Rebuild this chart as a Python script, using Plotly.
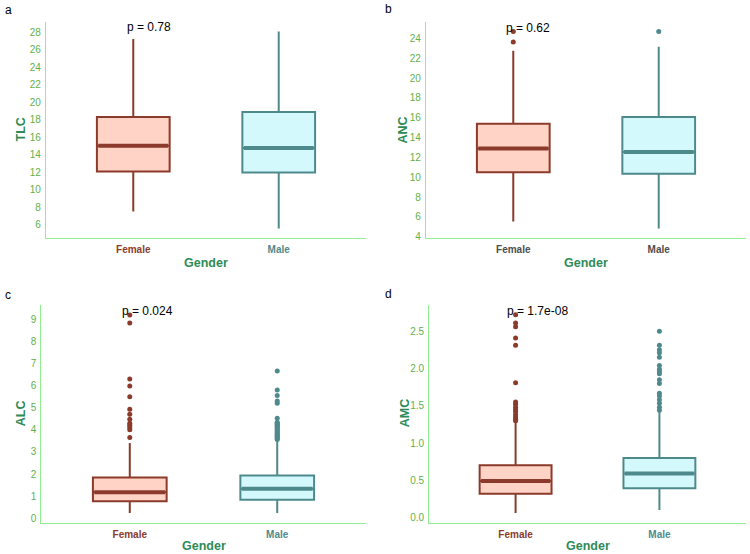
import plotly.graph_objects as go

# ---------------- data ----------------
groups = ["Female", "Male"]
# stats: [lower whisker, Q1, median, Q3, upper whisker]
tlc_female = [7.55, 12.1, 15.05, 18.34, 27.25]
tlc_male = [5.6, 11.98, 14.8, 18.9, 28.1]
tlc_out_female = []
tlc_out_male = []

anc_female = [5.53, 10.5, 12.9, 15.4, 22.77]
anc_male = [4.83, 10.35, 12.55, 16.07, 23.17]
anc_out_female = [23.64, 24.7]
anc_out_male = [24.7]

alc_female = [0.24, 0.77, 1.18, 1.84, 3.4]
alc_male = [0.24, 0.84, 1.34, 1.93, 3.52]
alc_out_female = [3.65, 4.0, 4.1, 4.2, 4.3, 4.48, 4.7, 4.93, 5.49, 5.98, 6.29, 8.82, 9.18]
alc_out_male = [3.56, 3.6, 3.65, 3.7, 3.75, 3.8, 3.85, 3.9, 3.95, 4.0, 4.05, 4.1, 4.15,
                4.2, 4.25, 4.3, 4.34, 4.52, 5.2, 5.3, 5.55, 5.8, 6.65]

amc_female = [0.063, 0.323, 0.494, 0.705, 1.28]
amc_male = [0.103, 0.395, 0.593, 0.80, 1.42]
amc_out_female = [1.30, 1.32, 1.35, 1.38, 1.42, 1.45, 1.48, 1.52, 1.55, 1.81, 2.31, 2.41,
                  2.56, 2.61, 2.72]
amc_out_male = [1.44, 1.48, 1.535, 1.58, 1.63, 1.67, 1.80, 1.85, 1.93, 1.96, 1.99, 2.04,
                2.15, 2.21, 2.25, 2.31, 2.50]

variables = ["TLC", "ANC", "ALC", "AMC"]
x_title = "Gender"
p_values = ["p = 0.78", "p = 0.62", "p = 0.024", "p = 1.7e-08"]
panel_letters = ["a", "b", "c", "d"]

ytick_vals = [
    [6, 8, 10, 12, 14, 16, 18, 20, 22, 24, 26, 28],
    [4, 6, 8, 10, 12, 14, 16, 18, 20, 22, 24],
    [0, 1, 2, 3, 4, 5, 6, 7, 8, 9],
    [0.0, 0.5, 1.0, 1.5, 2.0, 2.5],
]

# ---------------- style ----------------
W, H = 750, 554
line_cols = {"Female": "#8B3A2B", "Male": "#4E8A8C"}
fill_cols = {"Female": "#FFD3C6", "Male": "#D3F9FC"}
ytick_col = "#62B04C"
axis_line_col = "#90EE90"
title_col = "#2E8B57"
FONT = "Liberation Sans, Arial, sans-serif"

# pixel boxes: (x_left, x_right, y_top, y_bottom)
panels_px = [
    (46, 366, 21.7, 238.3),
    (426, 746, 21.7, 238.3),
    (41.3, 365.7, 304.7, 523),
    (429.3, 745.7, 304.7, 523),
]
yranges = [(4.475, 29.225), (3.84, 25.69), (-0.21, 9.65), (-0.07, 2.855)]
letter_pos = [(3, 10), (383, 9), (3, 294.5), (383, 294)]
ytitle_pos = [(20.5, 130), (402.5, 130), (20.5, 413.7), (404.5, 413.7)]
xtitle_y = [263, 263, 546.3, 546.3]
colored_x = [True, False, True, True]
p_shift = [-8, -9, -10, -11]
p_y = [28.57, 25.1, 9.35, 2.77]

stats = [
    (tlc_female, tlc_male, tlc_out_female, tlc_out_male),
    (anc_female, anc_male, anc_out_female, anc_out_male),
    (alc_female, alc_male, alc_out_female, alc_out_male),
    (amc_female, amc_male, amc_out_female, amc_out_male),
]

fig = go.Figure()
box_width = 0.5

for i in range(4):
    xa = "x" if i == 0 else f"x{i+1}"
    ya = "y" if i == 0 else f"y{i+1}"
    sf, sm, of, om = stats[i]
    for gi, (g, s, outs) in enumerate([("Female", sf, of), ("Male", sm, om)]):
        fig.add_trace(go.Box(
            x=[gi], lowerfence=[s[0]], q1=[s[1]], median=[s[2]], q3=[s[3]],
            upperfence=[s[4]], width=box_width, whiskerwidth=0,
            fillcolor=fill_cols[g], line=dict(color=line_cols[g], width=2),
            boxpoints=False, showlegend=False, hoverinfo="skip",
            xaxis=xa, yaxis=ya,
        ))
        # thicker median line
        fig.add_trace(go.Scatter(
            x=[gi - box_width / 2 + 0.01, gi + box_width / 2 - 0.01], y=[s[2], s[2]],
            mode="lines", line=dict(color=line_cols[g], width=4),
            showlegend=False, hoverinfo="skip", xaxis=xa, yaxis=ya,
        ))
        if outs:
            fig.add_trace(go.Scatter(
                x=[gi] * len(outs), y=outs, mode="markers",
                marker=dict(color=line_cols[g], size=5),
                showlegend=False, hoverinfo="skip", xaxis=xa, yaxis=ya,
            ))

    xl, xr, yt, yb = panels_px[i]
    xkey = "xaxis" if i == 0 else f"xaxis{i+1}"
    ykey = "yaxis" if i == 0 else f"yaxis{i+1}"
    if colored_x[i]:
        ttext = [f"<span style='color:{line_cols[g]}'><b>{g}</b></span>" for g in groups]
    else:
        ttext = [f"<b>{g}</b>" for g in groups]
    fig.layout[xkey] = dict(
        domain=[xl / W, xr / W], anchor=ya, range=[-0.6, 1.6],
        tickvals=[0, 1], ticktext=ttext,
        tickfont=dict(family=FONT, size=10, color="#4D4D4D"),
        showgrid=False, zeroline=False, showline=True, linecolor=axis_line_col,
        linewidth=1.2, ticks="", automargin=False, ticklabelstandoff=2,
    )
    fmt = ".1f" if i == 3 else "d"
    fig.layout[ykey] = dict(
        domain=[1 - yb / H, 1 - yt / H], anchor=xa, range=list(yranges[i]),
        tickvals=ytick_vals[i], tickformat=fmt,
        tickfont=dict(family=FONT, size=10, color=ytick_col),
        showgrid=False, zeroline=False, showline=True, linecolor=axis_line_col,
        linewidth=1.2, ticks="", automargin=False, ticklabelstandoff=2,
    )
    fig.add_annotation(
        x=0, y=p_y[i], xref=xa, yref=ya, text=p_values[i], showarrow=False,
        xanchor="left", yanchor="middle", xshift=p_shift[i],
        font=dict(family=FONT, size=12, color="black"),
    )
    lx, ly = letter_pos[i]
    fig.add_annotation(
        x=lx / W, y=1 - ly / H, xref="paper", yref="paper", text=panel_letters[i],
        showarrow=False, xanchor="left", yanchor="middle",
        font=dict(family=FONT, size=12, color="black"),
    )
    tx, ty = ytitle_pos[i]
    fig.add_annotation(
        x=tx / W, y=1 - ty / H, xref="paper", yref="paper", text=f"<b>{variables[i]}</b>",
        showarrow=False, xanchor="center", yanchor="middle", textangle=-90,
        font=dict(family=FONT, size=12.5, color=title_col),
    )
    fig.add_annotation(
        x=(xl + xr) / 2 / W, y=1 - xtitle_y[i] / H, xref="paper", yref="paper",
        text=f"<b>{x_title}</b>", showarrow=False, xanchor="center", yanchor="middle",
        font=dict(family=FONT, size=12.5, color=title_col),
    )

fig.update_layout(
    width=W, height=H, margin=dict(l=0, r=0, t=0, b=0),
    paper_bgcolor="white", plot_bgcolor="white", showlegend=False,
)

fig.write_html("out.html")
